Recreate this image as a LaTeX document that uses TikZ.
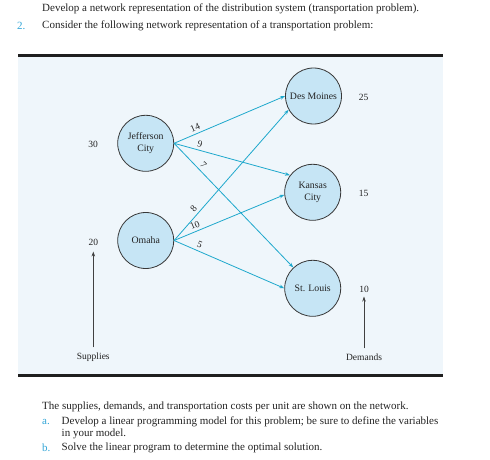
\documentclass[tikz,border=0pt]{standalone}
\usepackage{fontspec}
\setmainfont{Liberation Serif}
\usetikzlibrary{arrows.meta}
\definecolor{bgblue}{RGB}{239,246,251}
\definecolor{nodefill}{RGB}{198,229,245}
\definecolor{nodeline}{RGB}{55,55,55}
\definecolor{edgecyan}{RGB}{30,168,204}
\definecolor{txt}{RGB}{35,35,35}
\definecolor{labcyan}{RGB}{50,165,215}
\begin{document}
\begin{tikzpicture}[x=1pt,y=-1pt,
  place/.style={circle,draw=nodeline,line width=0.8pt,fill=nodefill,minimum size=56pt,inner sep=0pt,align=center,font=\fontsize{9.8}{11.7}\selectfont,text=txt},
  flow/.style={draw=edgecyan,line width=0.8pt,-{Stealth[length=5pt,width=3.5pt]}},
  cost/.style={sloped,above,pos=0.21,inner sep=2.5pt,font=\fontsize{9.5}{11}\selectfont,text=txt},
  qty/.style={font=\fontsize{9.5}{11}\selectfont,text=txt,inner sep=0pt},
  para/.style={anchor=west,inner sep=0pt,font=\fontsize{11}{12}\selectfont,text=txt},
  enum/.style={anchor=west,inner sep=0pt,font=\fontsize{11}{12}\selectfont,text=labcyan},
  rule/.style={line width=2.8pt,draw=black!88},
  axisarrow/.style={draw=black!75,line width=0.8pt,-{Stealth[length=5pt,width=3.5pt]}}]
\useasboundingbox (0,0) rectangle (490,460);
% top text
\node[para] (t1) at (42,9) {Develop a network representation of the distribution system (transportation problem).};
\node[enum] (n2) at (17,25.5) {2.};
\node[para] (t2) at (42,25.5) {Consider the following network representation of a transportation problem:};
% panel
\fill[bgblue] (18,56) rectangle (443,375);
\draw[rule] (18,55.5) -- (443,55.5);
\draw[rule] (18,375.3) -- (443,375.3);
% nodes
\node[place] (J) at (145.7,143.3) {Jefferson\\City};
\node[place] (O) at (145.7,240.5) {Omaha};
\node[place] (D) at (313.5,96) {Des Moines};
\node[place] (K) at (312.7,192.3) {Kansas\\City};
\node[place] (S) at (312.7,288.3) {St. Louis};
% quantities
\node[qty] (q30) at (93,144) {30};
\node[qty] (q20) at (93.3,242.5) {20};
\node[qty] (q25) at (363.5,97) {25};
\node[qty] (q15) at (363.5,193) {15};
\node[qty] (q10) at (364,289.3) {10};
\node[qty] (sup) at (93.3,357) {Supplies};
\node[qty] (dem) at (364,357) {Demands};
\draw[axisarrow] (sup.north) ++(0,-5) coordinate (s0) -- (q20.south |- 0,251.5) coordinate (s1);
\draw[axisarrow] (dem.north) ++(0,-5) coordinate (d0) -- (q10.south |- 0,296.5) coordinate (d1);
% flows
\draw[flow] (J.east) -- node[cost] {14} (D.180);
\draw[flow] (J.east) -- node[cost] {9} (K.143);
\draw[flow] (J.east) -- node[cost] {7} (S.133);
\draw[flow] (O.east) -- node[cost] {8} (D.209);
\draw[flow] (O.east) -- node[cost] {10} (K.185);
\draw[flow] (O.east) -- node[cost] {5} (S.180);
% bottom text
\node[para] (b1) at (42,407) {The supplies, demands, and transportation costs per unit are shown on the network.};
\node[enum] (ea) at (42,422) {a.};
\node[para] (b2) at (61.5,422) {Develop a linear programming model for this problem; be sure to define the variables};
\node[para] (b3) at (61.5,433.5) {in your model.};
\node[enum] (eb) at (42,448) {b.};
\node[para] (b4) at (61.5,448) {Solve the linear program to determine the optimal solution.};
\end{tikzpicture}
\end{document}
